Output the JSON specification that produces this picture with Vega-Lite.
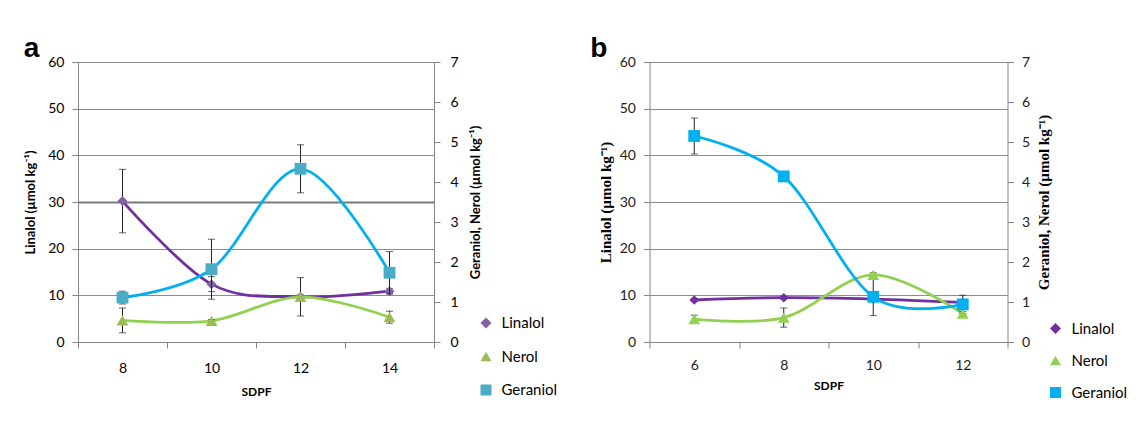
{
  "$schema": "https://vega.github.io/schema/vega-lite/v6.json",
  "background": "white",
  "padding": {"left": 23, "top": 35, "right": 0, "bottom": 0},
  "datasets": {
    "volatiles": [
      {"panel": "a", "series": "Linalol", "sdpf": 8, "value": 30.2, "err": 6.8},
      {"panel": "a", "series": "Linalol", "sdpf": 10, "value": 12.4, "err": 1.6},
      {"panel": "a", "series": "Linalol", "sdpf": 12, "value": 9.7, "err": 0.4},
      {"panel": "a", "series": "Linalol", "sdpf": 14, "value": 10.9, "err": 0.5},
      {"panel": "a", "series": "Nerol", "sdpf": 8, "value": 0.54, "err": 0.31},
      {"panel": "a", "series": "Nerol", "sdpf": 10, "value": 0.53, "err": 0.03},
      {"panel": "a", "series": "Nerol", "sdpf": 12, "value": 1.13, "err": 0.48},
      {"panel": "a", "series": "Nerol", "sdpf": 14, "value": 0.62, "err": 0.15},
      {"panel": "a", "series": "Geraniol", "sdpf": 8, "value": 1.11, "err": 0.16},
      {"panel": "a", "series": "Geraniol", "sdpf": 10, "value": 1.82, "err": 0.75},
      {"panel": "a", "series": "Geraniol", "sdpf": 12, "value": 4.33, "err": 0.6},
      {"panel": "a", "series": "Geraniol", "sdpf": 14, "value": 1.73, "err": 0.53},
      {"panel": "b", "series": "Linalol", "sdpf": 6, "value": 9.0, "err": 0.3},
      {"panel": "b", "series": "Linalol", "sdpf": 8, "value": 9.5, "err": 0.3},
      {"panel": "b", "series": "Linalol", "sdpf": 10, "value": 9.2, "err": 0.3},
      {"panel": "b", "series": "Linalol", "sdpf": 12, "value": 8.5, "err": 0.3},
      {"panel": "b", "series": "Nerol", "sdpf": 6, "value": 0.57, "err": 0.1},
      {"panel": "b", "series": "Nerol", "sdpf": 8, "value": 0.61, "err": 0.24},
      {"panel": "b", "series": "Nerol", "sdpf": 10, "value": 1.68, "err": 0.05},
      {"panel": "b", "series": "Nerol", "sdpf": 12, "value": 0.71, "err": 0.05},
      {"panel": "b", "series": "Geraniol", "sdpf": 6, "value": 5.15, "err": 0.45},
      {"panel": "b", "series": "Geraniol", "sdpf": 8, "value": 4.14, "err": 0.05},
      {"panel": "b", "series": "Geraniol", "sdpf": 10, "value": 1.13, "err": 0.47},
      {"panel": "b", "series": "Geraniol", "sdpf": 12, "value": 0.94, "err": 0.23}
    ]
  },
  "data": {"name": "volatiles"},
  "spacing": 31.5,
  "hconcat": [
    {
      "width": 356,
      "height": 280,
      "title": {"text": "a", "anchor": "start", "frame": "bounds", "font": "Liberation Sans", "fontSize": 28, "fontWeight": "bold", "color": "#000", "offset": 0, "dx": -1, "dy": 8},
      "transform": [{"filter": "datum.panel === 'a'"}],
      "encoding": {
        "x": {
          "field": "sdpf", "type": "ordinal", "title": "SDPF",
          "scale": {"type": "band", "paddingInner": 0, "paddingOuter": 0},
          "axis": {"labelAngle": 0, "tickBand": "extent", "tickSize": 6, "labelPadding": 13, "titlePadding": 11,
                   "domainColor": "#868686", "tickColor": "#868686", "labelFont": "Lato", "labelFontSize": 14, "labelColor": "#000",
                   "titleFont": "Lato", "titleFontSize": 12, "titleFontWeight": "bold", "titleColor": "#000"}
        }
      },
      "layer": [
        {
          "transform": [{"filter": "datum.series === 'Linalol'"}],
          "encoding": {
            "y": {
              "field": "value", "type": "quantitative", "title": "Linalol (µmol kg⁻¹)",
              "scale": {"domain": [0, 60], "nice": false},
              "axis": {"orient": "left", "values": [0, 10, 20, 30, 40, 50, 60], "grid": true,
                       "gridColor": {"condition": {"test": "datum.value === 30", "value": "#7a7a7a"}, "value": "#8c8c8c"},
                       "gridWidth": {"condition": {"test": "datum.value === 30", "value": 2}, "value": 1},
                       "domainColor": "#868686", "tickColor": "#868686", "tickSize": 6, "labelPadding": 8,
                       "labelFont": "Lato", "labelFontSize": 14, "labelColor": "#000",
                       "titleFont": "Lato", "titleFontSize": 13, "titleFontWeight": "bold", "titleColor": "#000", "titlePadding": 10}
            }
          },
          "layer": [
            {
              "mark": {"type": "line", "interpolate": "cardinal", "strokeWidth": 2.8},
              "encoding": {"stroke": {"field": "series", "type": "nominal",
                "scale": {"domain": ["Linalol", "Nerol", "Geraniol"], "range": ["#7030A0", "#92D050", "#00B0F0"]},
                "legend": {"orient": "none", "legendX": 400.5, "legendY": 253.5, "title": null, "padding": 0,
                    "symbolSize": 121, "labelOffset": 8, "rowPadding": 17.5, "symbolStrokeWidth": 0,
                    "labelFont": "Lato", "labelFontSize": 15, "labelColor": "#000"}}}
            },
            {
              "mark": {"type": "errorbar", "ticks": true, "size": 7, "thickness": 1, "color": "#222"},
              "encoding": {"yError": {"field": "err"}}
            },
            {
              "mark": {"type": "point", "filled": true, "opacity": 1, "size": 100, "strokeWidth": 0},
              "encoding": {
                "color": {"field": "series", "type": "nominal",
                  "scale": {"domain": ["Linalol", "Nerol", "Geraniol"], "range": ["#8064A2", "#9BBB59", "#4BACC6"]},
                  "legend": {"orient": "none", "legendX": 400.5, "legendY": 253.5, "title": null, "padding": 0,
                    "symbolSize": 121, "labelOffset": 8, "rowPadding": 17.5, "symbolStrokeWidth": 0,
                    "labelFont": "Lato", "labelFontSize": 15, "labelColor": "#000"}
                },
                "shape": {"field": "series", "type": "nominal",
                  "scale": {"domain": ["Linalol", "Nerol", "Geraniol"], "range": ["diamond", "triangle-up", "square"]},
                  "legend": {"orient": "none", "legendX": 400.5, "legendY": 253.5, "title": null, "padding": 0,
                    "symbolSize": 121, "labelOffset": 8, "rowPadding": 17.5, "symbolStrokeWidth": 0,
                    "labelFont": "Lato", "labelFontSize": 15, "labelColor": "#000"}
                }
              }
            }
          ]
        },
        {
          "transform": [{"filter": "datum.series !== 'Linalol'"}],
          "encoding": {
            "y": {
              "field": "value", "type": "quantitative", "title": "Geraniol, Nerol (µmol kg⁻¹)",
              "scale": {"domain": [0, 7], "nice": false},
              "axis": {"orient": "right", "values": [0, 1, 2, 3, 4, 5, 6, 7], "grid": false,
                       "domainColor": "#868686", "tickColor": "#868686", "tickSize": 6, "labelPadding": 10,
                       "labelFont": "Lato", "labelFontSize": 14, "labelColor": "#000", "titleAngle": 270,
                       "titleFont": "Lato", "titleFontSize": 13, "titleFontWeight": "bold", "titleColor": "#000", "titlePadding": 24}
            }
          },
          "layer": [
            {
              "mark": {"type": "line", "interpolate": "cardinal", "strokeWidth": 2.8},
              "encoding": {"stroke": {"field": "series", "type": "nominal",
                "scale": {"domain": ["Linalol", "Nerol", "Geraniol"], "range": ["#7030A0", "#92D050", "#00B0F0"]},
                "legend": {"orient": "none", "legendX": 400.5, "legendY": 253.5, "title": null, "padding": 0,
                    "symbolSize": 121, "labelOffset": 8, "rowPadding": 17.5, "symbolStrokeWidth": 0,
                    "labelFont": "Lato", "labelFontSize": 15, "labelColor": "#000"}}}
            },
            {
              "mark": {"type": "errorbar", "ticks": true, "size": 7, "thickness": 1, "color": "#222"},
              "encoding": {"yError": {"field": "err"}}
            },
            {
              "mark": {"type": "point", "filled": true, "opacity": 1, "size": 140, "strokeWidth": 0},
              "encoding": {
                "color": {"field": "series", "type": "nominal",
                  "scale": {"domain": ["Linalol", "Nerol", "Geraniol"], "range": ["#8064A2", "#9BBB59", "#4BACC6"]},
                  "legend": {"orient": "none", "legendX": 400.5, "legendY": 253.5, "title": null, "padding": 0,
                    "symbolSize": 121, "labelOffset": 8, "rowPadding": 17.5, "symbolStrokeWidth": 0,
                    "labelFont": "Lato", "labelFontSize": 15, "labelColor": "#000"}
                },
                "shape": {"field": "series", "type": "nominal",
                  "scale": {"domain": ["Linalol", "Nerol", "Geraniol"], "range": ["diamond", "triangle-up", "square"]},
                  "legend": {"orient": "none", "legendX": 400.5, "legendY": 253.5, "title": null, "padding": 0,
                    "symbolSize": 121, "labelOffset": 8, "rowPadding": 17.5, "symbolStrokeWidth": 0,
                    "labelFont": "Lato", "labelFontSize": 15, "labelColor": "#000"}
                }
              }
            }
          ]
        }
      ],
      "resolve": {"scale": {"y": "independent"}}
    },
    {
      "width": 358,
      "height": 280,
      "title": {"text": "b", "anchor": "start", "frame": "bounds", "font": "Liberation Sans", "fontSize": 28, "fontWeight": "bold", "color": "#000", "offset": 0, "dx": -8, "dy": 8},
      "transform": [{"filter": "datum.panel === 'b'"}],
      "encoding": {
        "x": {
          "field": "sdpf", "type": "ordinal", "title": "SDPF",
          "scale": {"type": "band", "paddingInner": 0, "paddingOuter": 0},
          "axis": {"labelAngle": 0, "tickBand": "extent", "tickSize": 6, "labelPadding": 10, "titlePadding": 8,
                   "domainColor": "#868686", "tickColor": "#868686", "labelFont": "Lato", "labelFontSize": 14, "labelColor": "#222",
                   "titleFont": "Lato", "titleFontSize": 12, "titleFontWeight": "bold", "titleColor": "#000"}
        }
      },
      "layer": [
        {
          "transform": [{"filter": "datum.series === 'Linalol'"}],
          "encoding": {
            "y": {
              "field": "value", "type": "quantitative", "title": "Linalol (µmol kg⁻¹)",
              "scale": {"domain": [0, 60], "nice": false},
              "axis": {"orient": "left", "values": [0, 10, 20, 30, 40, 50, 60], "grid": true, "gridColor": "#8c8c8c",
                       "domainColor": "#868686", "tickColor": "#868686", "tickSize": 6, "labelPadding": 8,
                       "labelFont": "Lato", "labelFontSize": 14, "labelColor": "#222",
                       "titleFont": "Liberation Serif", "titleFontSize": 15, "titleFontWeight": "bold", "titleColor": "#000", "titlePadding": 6}
            }
          },
          "layer": [
            {
              "mark": {"type": "line", "interpolate": "cardinal", "strokeWidth": 2.8},
              "encoding": {"stroke": {"field": "series", "type": "nominal",
                "scale": {"domain": ["Linalol", "Nerol", "Geraniol"], "range": ["#7030A0", "#92D050", "#00B0F0"]},
                "legend": {"orient": "none", "legendX": 398.5, "legendY": 259, "title": null, "padding": 0,
                    "symbolSize": 121, "labelOffset": 8.5, "rowPadding": 16, "symbolStrokeWidth": 0,
                    "labelFont": "Lato", "labelFontSize": 15, "labelColor": "#000"}}}
            },
            {
              "mark": {"type": "errorbar", "ticks": true, "size": 7, "thickness": 1, "color": "#222"},
              "encoding": {"yError": {"field": "err"}}
            },
            {
              "mark": {"type": "point", "filled": true, "opacity": 1, "size": 90, "strokeWidth": 0},
              "encoding": {
                "color": {"field": "series", "type": "nominal",
                  "scale": {"domain": ["Linalol", "Nerol", "Geraniol"], "range": ["#7030A0", "#92D050", "#00B0F0"]},
                  "legend": {"orient": "none", "legendX": 398.5, "legendY": 259, "title": null, "padding": 0,
                    "symbolSize": 121, "labelOffset": 8.5, "rowPadding": 16, "symbolStrokeWidth": 0,
                    "labelFont": "Lato", "labelFontSize": 15, "labelColor": "#000"}
                },
                "shape": {"field": "series", "type": "nominal",
                  "scale": {"domain": ["Linalol", "Nerol", "Geraniol"], "range": ["diamond", "triangle-up", "square"]},
                  "legend": {"orient": "none", "legendX": 398.5, "legendY": 259, "title": null, "padding": 0,
                    "symbolSize": 121, "labelOffset": 8.5, "rowPadding": 16, "symbolStrokeWidth": 0,
                    "labelFont": "Lato", "labelFontSize": 15, "labelColor": "#000"}
                }
              }
            }
          ]
        },
        {
          "transform": [{"filter": "datum.series !== 'Linalol'"}],
          "encoding": {
            "y": {
              "field": "value", "type": "quantitative", "title": "Geraniol, Nerol  (µmol kg⁻¹)",
              "scale": {"domain": [0, 7], "nice": false},
              "axis": {"orient": "right", "values": [0, 1, 2, 3, 4, 5, 6, 7], "grid": false,
                       "domainColor": "#868686", "tickColor": "#868686", "tickSize": 6, "labelPadding": 8,
                       "labelFont": "Lato", "labelFontSize": 14, "labelColor": "#222", "titleAngle": 270,
                       "titleFont": "Liberation Serif", "titleFontSize": 15, "titleFontWeight": "bold", "titleColor": "#000", "titlePadding": 22}
            }
          },
          "layer": [
            {
              "mark": {"type": "line", "interpolate": "cardinal", "strokeWidth": 2.8},
              "encoding": {"stroke": {"field": "series", "type": "nominal",
                "scale": {"domain": ["Linalol", "Nerol", "Geraniol"], "range": ["#7030A0", "#92D050", "#00B0F0"]},
                "legend": {"orient": "none", "legendX": 398.5, "legendY": 259, "title": null, "padding": 0,
                    "symbolSize": 121, "labelOffset": 8.5, "rowPadding": 16, "symbolStrokeWidth": 0,
                    "labelFont": "Lato", "labelFontSize": 15, "labelColor": "#000"}}}
            },
            {
              "mark": {"type": "errorbar", "ticks": true, "size": 7, "thickness": 1, "color": "#222"},
              "encoding": {"yError": {"field": "err"}}
            },
            {
              "mark": {"type": "point", "filled": true, "opacity": 1, "size": 140, "strokeWidth": 0},
              "encoding": {
                "color": {"field": "series", "type": "nominal",
                  "scale": {"domain": ["Linalol", "Nerol", "Geraniol"], "range": ["#7030A0", "#92D050", "#00B0F0"]},
                  "legend": {"orient": "none", "legendX": 398.5, "legendY": 259, "title": null, "padding": 0,
                    "symbolSize": 121, "labelOffset": 8.5, "rowPadding": 16, "symbolStrokeWidth": 0,
                    "labelFont": "Lato", "labelFontSize": 15, "labelColor": "#000"}
                },
                "shape": {"field": "series", "type": "nominal",
                  "scale": {"domain": ["Linalol", "Nerol", "Geraniol"], "range": ["diamond", "triangle-up", "square"]},
                  "legend": {"orient": "none", "legendX": 398.5, "legendY": 259, "title": null, "padding": 0,
                    "symbolSize": 121, "labelOffset": 8.5, "rowPadding": 16, "symbolStrokeWidth": 0,
                    "labelFont": "Lato", "labelFontSize": 15, "labelColor": "#000"}
                }
              }
            }
          ]
        }
      ],
      "resolve": {"scale": {"y": "independent"}}
    }
  ],
  "resolve": {"scale": {"color": "independent", "stroke": "independent", "shape": "independent"}, "legend": {"color": "independent", "stroke": "independent", "shape": "independent"}},
  "config": {
    "view": {"stroke": null},
    "font": "Lato"
  }
}
